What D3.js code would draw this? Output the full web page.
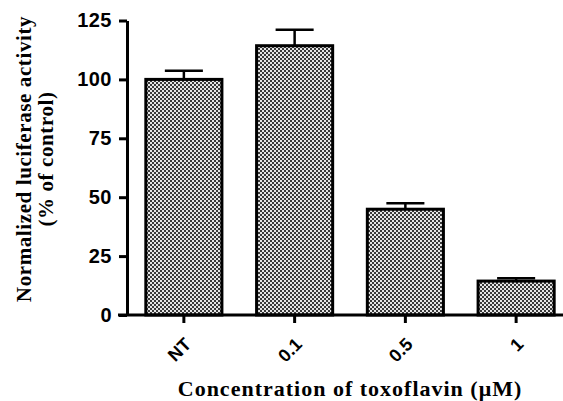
<!DOCTYPE html>
<html>
<head>
<meta charset="utf-8">
<title>toxoflavin luciferase</title>
<style>
body { margin: 0; background: #fff; }
.axis path, .axis line { stroke: #000; stroke-width: 3px; }
.axis text { font-family: "Liberation Sans", Arial, sans-serif; font-weight: bold; fill: #000; }
.title { font-family: "Liberation Serif", "Times New Roman", serif; font-weight: bold; fill: #000; }
.bar { fill: url(#checker); stroke: #000; stroke-width: 3px; }
.err { stroke: #000; stroke-width: 2.5px; }
</style>
</head>
<body>
<script src="https://cdn.jsdelivr.net/npm/d3@7"></script>
<script>
// data
var categories = ["NT", "0.1", "0.5", "1"];
var means = [100, 114.3, 44.9, 14.4];
var errors = [3.7, 6.8, 2.5, 1.2];
var yTicks = [0, 25, 50, 75, 100, 125];

var width = 563, height = 401;
var axisX = 127, axisY = 315, plotTop = 20.5;

var svg = d3.select("body").append("svg")
    .attr("width", width)
    .attr("height", height);

// fine checkered fill like the original (2px cells, 4px period)
var pat = svg.append("defs").append("pattern")
    .attr("id", "checker")
    .attr("patternUnits", "userSpaceOnUse")
    .attr("width", 4).attr("height", 4);
pat.append("rect").attr("width", 4).attr("height", 4).attr("fill", "#3a3a3a");
pat.append("rect").attr("width", 2).attr("height", 2).attr("fill", "#e6e6e6");
pat.append("rect").attr("x", 2).attr("y", 2).attr("width", 2).attr("height", 2).attr("fill", "#e6e6e6");

var x = d3.scaleBand()
    .domain(categories)
    .range([axisX, 573])
    .paddingInner(0.313)
    .paddingOuter(0.17);

var y = d3.scaleLinear()
    .domain([0, 125])
    .range([axisY, plotTop]);

var data = categories.map(function (c, i) { return { cat: c, mean: means[i], err: errors[i] }; });

// bars
svg.selectAll(".bar")
    .data(data)
    .enter().append("rect")
    .attr("class", "bar")
    .attr("x", function (d) { return x(d.cat); })
    .attr("width", x.bandwidth())
    .attr("y", function (d) { return y(d.mean); })
    .attr("height", function (d) { return y(0) - y(d.mean); });

// error bars (upper only)
var eb = svg.selectAll(".errg")
    .data(data)
    .enter().append("g");
eb.append("line")
    .attr("class", "err")
    .attr("x1", function (d) { return x(d.cat) + x.bandwidth() / 2; })
    .attr("x2", function (d) { return x(d.cat) + x.bandwidth() / 2; })
    .attr("y1", function (d) { return y(d.mean); })
    .attr("y2", function (d) { return y(d.mean + d.err); });
eb.append("line")
    .attr("class", "err")
    .attr("x1", function (d) { return x(d.cat) + x.bandwidth() / 4; })
    .attr("x2", function (d) { return x(d.cat) + x.bandwidth() * 3 / 4; })
    .attr("y1", function (d) { return y(d.mean + d.err); })
    .attr("y2", function (d) { return y(d.mean + d.err); });

// y axis
var yAxis = svg.append("g")
    .attr("class", "axis")
    .attr("transform", "translate(" + axisX + ",0)")
    .call(d3.axisLeft(y).tickValues(yTicks).tickSize(8).tickSizeOuter(0).tickPadding(7));
yAxis.selectAll("text").style("font-size", "20px").style("letter-spacing", "0.5px");

// x axis
var xAxis = svg.append("g")
    .attr("class", "axis")
    .attr("transform", "translate(0," + axisY + ")")
    .call(d3.axisBottom(x).tickSize(8).tickSizeOuter(0));
xAxis.select(".domain").attr("d", "M" + (axisX - 9) + ",0H573");
xAxis.selectAll("text")
    .style("font-size", "18px")
    .style("text-anchor", "end")
    .attr("y", 0)
    .attr("dy", "0.35em")
    .attr("transform", "translate(4,26) rotate(-45)");

// axis titles
svg.append("text")
    .attr("class", "title")
    .attr("x", 350)
    .attr("y", 396)
    .attr("text-anchor", "middle")
    .style("font-size", "22px")
    .style("letter-spacing", "1px")
    .text("Concentration of toxoflavin (\u03bcM)");

var yt = svg.append("text")
    .attr("class", "title")
    .attr("transform", "translate(31,159) rotate(-90)")
    .attr("text-anchor", "middle")
    .style("font-size", "21px")
    .style("letter-spacing", "0.6px");
yt.append("tspan").attr("x", 0).attr("y", 0).text("Normalized luciferase activity");
yt.append("tspan").attr("x", 0).attr("y", 22).text("(% of control)");
</script>
</body>
</html>
